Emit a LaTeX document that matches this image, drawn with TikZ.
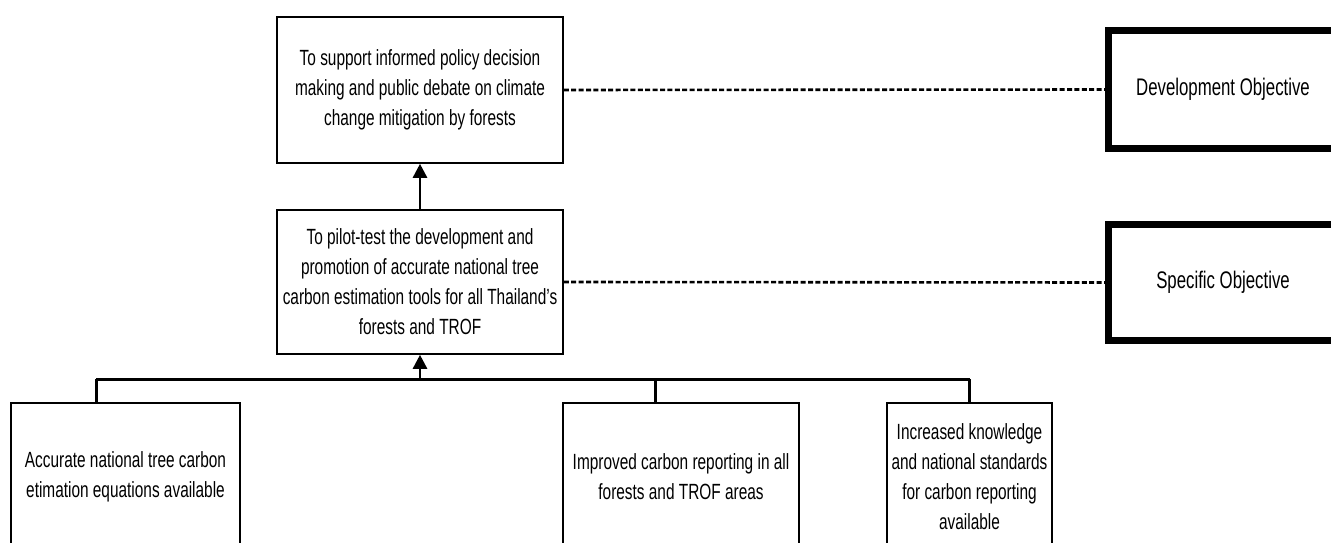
\documentclass[tikz,border=0pt]{standalone}
\usepackage{fontspec}
\setmainfont{Liberation Sans}[FakeStretch=0.70]
\usepackage{tikz}
\usetikzlibrary{arrows.meta, positioning}

\begin{document}
\begin{tikzpicture}[x=1pt, y=-1pt,
	box/.style={draw, line width=1.6pt, align=center, inner sep=0pt, font=\fontsize{22}{30}\selectfont},
	levelbox/.style={draw, line width=7pt, align=center, inner sep=0pt, font=\fontsize{24}{30}\selectfont},
	link/.style={line width=2.6pt, dash pattern=on 5pt off 2.4pt},
	up/.style={line width=2.6pt, -{Triangle[length=14pt, width=14pt]}},
	bus/.style={line width=3pt}]
			\useasboundingbox (0,0) rectangle (1331,543);
			\pgfmathsetmacro{\busy}{379}
			%% objectives
			\node[box, minimum width=286pt, minimum height=146pt] (goal) at (420,90) {To support informed policy decision\\making and public debate on climate\\change mitigation by forests};
			\node[box, minimum width=286pt, minimum height=144pt] (purpose) at (420,282) {To pilot-test the development and\\promotion of accurate national tree\\carbon estimation tools for all Thailand's\\forests and TROF};
			\node[levelbox, minimum width=229pt, minimum height=118pt] (dev) at (1223,89.5) {Development Objective};
			\node[levelbox, minimum width=229pt, minimum height=116pt] (spec) at (1223,282.5) {Specific Objective};
			%% outputs
			\node[box, minimum width=229pt, minimum height=148pt] (out1) at (125.5,477) {Accurate national tree carbon\\etimation equations available};
			\node[box, minimum width=236pt, minimum height=148pt] (out2) at (681,477) {Improved carbon reporting in all\\forests and TROF areas};
			\node[box, minimum width=165pt, minimum height=148pt] (out3) at (969.5,477) {Increased knowledge\\and national standards\\for carbon reporting\\available};
			\coordinate (j1) at (96,\busy);
			\coordinate (j2) at (655,\busy);
			\coordinate (j3) at (out3.north |- j1);
			%% links
			\draw[link] (goal.east) -- (dev.west);
			\draw[link] (purpose.east) -- (spec.west);
			\draw[up] (purpose.north) -- (goal.south);
			\draw[bus] (j1) -- (j3);
			\draw[bus] (j1) -- (j1 |- out1.north);
			\draw[bus] (j2) -- (j2 |- out2.north);
			\draw[bus] (j3) -- (out3.north);
			\draw[up] (purpose.south |- j1) -- (purpose.south);
\end{tikzpicture}
\end{document}
